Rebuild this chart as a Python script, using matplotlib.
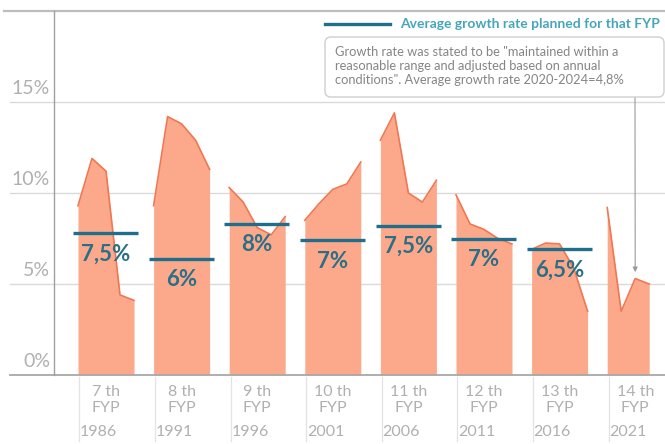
import matplotlib
matplotlib.use("Agg")
import matplotlib.pyplot as plt
from matplotlib.patches import FancyBboxPatch
import matplotlib.transforms as mtransforms

plt.rcParams['font.family'] = ['Lato', 'DejaVu Sans']

# ---- data ----
plan_names = ["7 th", "8 th", "9 th", "10 th", "11 th", "12 th", "13 th", "14 th"]
start_years = [1986, 1991, 1996, 2001, 2006, 2011, 2016, 2021]
growth = [
    [9.3, 11.9, 11.2, 4.4, 4.1],
    [9.3, 14.2, 13.8, 12.9, 11.3],
    [10.3, 9.5, 8.1, 7.7, 8.7],
    [8.5, 9.4, 10.2, 10.5, 11.7],
    [12.9, 14.4, 10.0, 9.5, 10.7],
    [9.9, 8.3, 8.0, 7.5, 7.2],
    [6.9, 7.25, 7.2, 5.9, 3.5],
    [9.2, 3.5, 5.3, 5.0],
]
plan_line = [7.8, 6.4, 8.3, 7.4, 8.2, 7.5, 6.9]
plan_labels = ["7,5%", "6%", "8%", "7%", "7,5%", "7%", "6,5%"]
y_ticks = [0, 5, 10, 15]
y_tick_labels = ["0%", "5%", "10%", "15%"]

# ---- layout ----
W, H = 665, 444
PERIOD = 5.4
fig = plt.figure(figsize=(W / 100, H / 100), dpi=100)
ax = fig.add_axes([54 / W, (H - 375) / H, (W - 54) / W, (375 - 11) / H])
ax.set_xlim(-24 / 14, (W - 78) / 14)
ax.set_ylim(0, 20)
ax.axis('off')

FILL = '#fca98b'
EDGE = '#f07752'
TEAL = '#1f6e8c'
LBL = '#2b6f86'
GRAYTXT = '#b0b0b0'

# grid lines (extend into label area)
blend = mtransforms.blended_transform_factory(ax.transAxes, ax.transData)
x_left = (10 - 54) / (W - 54)
for v in [5, 10, 15]:
    ax.plot([x_left, 1], [v, v], color='#dadada', lw=1.0, transform=blend,
            clip_on=False, zorder=0)
ax.plot([x_left, 1], [0, 0], color='#a8a8a8', lw=1.3, transform=blend,
        clip_on=False, zorder=5)
ax.plot([x_left - 0.01, 1], [20, 20], color='#bdbdbd', lw=1.6, transform=blend,
        clip_on=False, zorder=5)
ax.plot([0, 0], [0, 20], color='#a0a0a0', lw=1.0, transform=blend,
        clip_on=False, zorder=5)

# y tick labels
for v, t in zip(y_ticks, y_tick_labels):
    ax.text(-30 / 14 + 0.15, v + 0.25, t, ha='right', va='bottom',
            fontsize=14, color=GRAYTXT, fontweight='normal', clip_on=False)

# areas
for k, vals in enumerate(growth):
    xs = [k * PERIOD + j for j in range(len(vals))]
    ax.fill_between(xs, 0, vals, color=FILL, lw=0, zorder=2)
    ax.plot(xs, vals, color=EDGE, lw=1.2, zorder=3)
    x0 = k * PERIOD
    xc = x0 + 2
    # x labels
    ax.text(xc, -0.95, plan_names[k], ha='center', va='center', fontsize=11.5,
            color=GRAYTXT, fontweight='normal', clip_on=False)
    ax.text(xc, -1.8, "FYP", ha='center', va='center', fontsize=11.5,
            color=GRAYTXT, fontweight='normal', clip_on=False)
    ax.text(x0 + 0.15, -3.15, str(start_years[k]), ha='left', va='center',
            fontsize=11.5, color=GRAYTXT, fontweight='normal', clip_on=False)
    ax.plot([x0 + 0.1, x0 + 0.1], [-0.1, -3.6], color='#e3e3e3', lw=0.9,
            clip_on=False, zorder=1)

# planned lines
for k, (v, lab) in enumerate(zip(plan_line, plan_labels)):
    x0 = k * PERIOD
    ax.plot([x0 - 0.35, x0 + 4.3], [v, v], color=TEAL, lw=2.4,
            solid_capstyle='butt', zorder=4)
    ax.text(x0 + 2, v - 1.15, lab, ha='center', va='center', fontsize=16,
            fontweight='bold', color=LBL, zorder=4)

# legend
fig.add_artist(plt.Line2D([325 / W, 390 / W], [1 - 24 / H, 1 - 24 / H],
                          color=TEAL, lw=2.4, transform=fig.transFigure))
fig.text(400 / W, 1 - 24 / H, "Average growth rate planned for that FYP",
         ha='left', va='center', fontsize=10, fontweight='bold', color='#45a6ba')

# annotation box
box = FancyBboxPatch((3.27, (H - 95) / 100), 3.35, 0.56,
                     boxstyle='round,pad=0.02,rounding_size=0.06',
                     transform=fig.dpi_scale_trans, facecolor='white',
                     edgecolor='#cfcfcf', lw=1.0, zorder=6)
fig.add_artist(box)
note = ("Growth rate was stated to be \"maintained within a\n"
        "reasonable range and adjusted based on annual\n"
        "conditions\". Average growth rate 2020-2024=4,8%")
fig.text(335 / W, 1 - 66 / H, note, ha='left', va='center', fontsize=9.3,
         color='#858585', linespacing=1.25, zorder=7)

ax.annotate("", xy=(39.8, 5.65), xycoords='data',
            xytext=(635, H - 97), textcoords='figure pixels',
            arrowprops=dict(arrowstyle='-|>', color='#9a9a9a', lw=0.8,
                            mutation_scale=7, shrinkA=0, shrinkB=0),
            annotation_clip=False)

fig.savefig("out.png", dpi=100)
